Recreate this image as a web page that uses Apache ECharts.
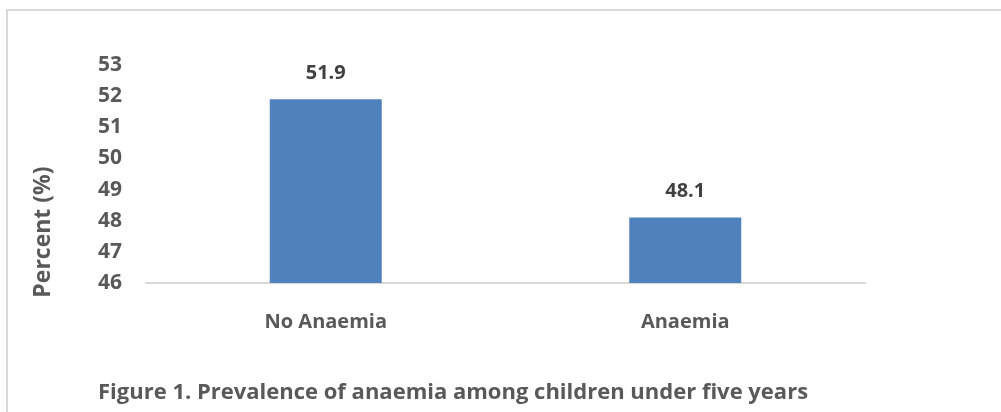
<!DOCTYPE html>
<html>
<head>
<meta charset="utf-8">
<script src="https://cdn.jsdelivr.net/npm/echarts@6/dist/echarts.min.js"></script>
<style>
  html, body { margin: 0; padding: 0; background: #ffffff; }
  #chart { width: 1001px; height: 412px; }
</style>
</head>
<body>
<div id="chart"></div>
<script>
// Prevalence of anaemia among children under five years
const categories = ['No Anaemia', 'Anaemia'];
const percentValues = [51.9, 48.1];
const yMin = 46;
const yMax = 53;
const yStep = 1;
const yAxisTitle = 'Percent (%)';
const figureCaption = 'Figure 1. Prevalence of anaemia among children under five years';

const FONT = '"Open Sans", "Liberation Sans", sans-serif';
const TEXT_GREY = '#595959';

const chart = echarts.init(document.getElementById('chart'), null, { renderer: 'canvas' });

chart.setOption({
  animation: false,
  backgroundColor: '#ffffff',
  grid: { left: 146, right: 136, top: 65, bottom: 129, containLabel: false },
  title: {
    text: figureCaption,
    left: 93,
    top: 377,
    textStyle: { fontFamily: FONT, fontWeight: 'bold', fontSize: 22, color: TEXT_GREY }
  },
  graphic: [
    {
      // frame around the chart area
      type: 'rect',
      silent: true,
      shape: { x: 7, y: 10, width: 1100, height: 500 },
      style: { fill: 'none', stroke: '#d9d9d9', lineWidth: 2 }
    },
    {
      // vertical axis title
      type: 'text',
      silent: true,
      x: 43,
      y: 232,
      rotation: Math.PI / 2,
      style: {
        text: yAxisTitle,
        fontFamily: FONT, fontWeight: 'bold', fontSize: 23, fill: TEXT_GREY,
        align: 'center', verticalAlign: 'middle'
      }
    }
  ],
  xAxis: {
    type: 'category',
    data: categories,
    axisLine: { show: true, lineStyle: { color: '#d9d9d9', width: 2 } },
    axisTick: { show: false },
    axisLabel: {
      margin: 29,
      fontFamily: FONT, fontWeight: 'bold', fontSize: 20, color: TEXT_GREY
    }
  },
  yAxis: {
    type: 'value',
    min: yMin,
    max: yMax,
    interval: yStep,
    axisLine: { show: false },
    axisTick: { show: false },
    splitLine: { show: false },
    axisLabel: {
      margin: 24,
      fontFamily: FONT, fontWeight: 'bold', fontSize: 21, color: TEXT_GREY
    }
  },
  series: [{
    type: 'bar',
    data: percentValues,
    barWidth: 112,
    itemStyle: { color: '#4f81bd' },
    label: {
      show: true,
      position: 'top',
      distance: 16,
      fontFamily: FONT, fontWeight: 'bold', fontSize: 20, color: '#404040',
      formatter: p => p.value.toFixed(1)
    }
  }]
});
</script>
</body>
</html>
